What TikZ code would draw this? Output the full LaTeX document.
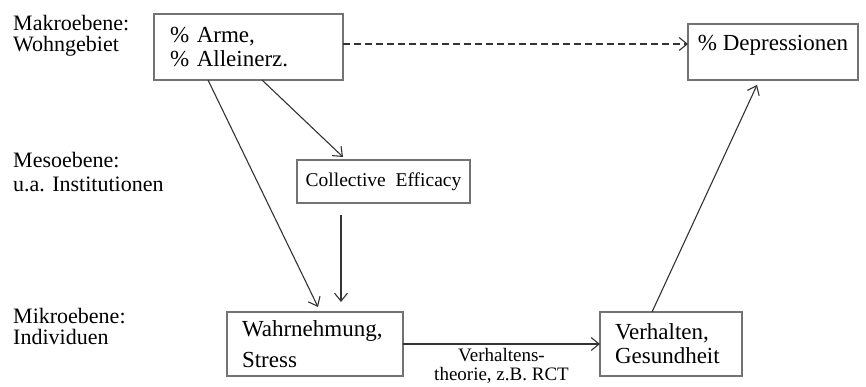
\documentclass[tikz,border=0pt]{standalone}
\usepackage{fontspec}
\setmainfont{Liberation Serif}
\usetikzlibrary{arrows.meta}
\tikzset{
  box/.style={draw=black!55, line width=1.3pt, anchor=north west, align=left,
    inner ysep=0pt, outer sep=0pt, font=\fontsize{23}{24}\selectfont},
  ebene/.style={anchor=north west, inner sep=0pt, align=left,
    font=\fontsize{22}{21}\selectfont},
  pfeil/.style={draw=black!80, line width=1.1pt,
    -{Straight Barb[length=8pt,width=13pt,line width=1.1pt]}}
}
\begin{document}
\begin{tikzpicture}[x=1pt,y=-1pt]
\useasboundingbox (0,0) rectangle (866,387);
% Ebenen
\node[ebene] (makro) at (13,15) {Makroebene:\\Wohngebiet};
\node[ebene] (meso) at (13,152) {Mesoebene:\\[3pt]u.a. Institutionen};
\node[ebene] (mikro) at (13,308) {Mikroebene:\\Individuen};
% Kaesten
\node[box, minimum width=189pt, minimum height=66pt, inner xsep=16pt, text width=157pt]
  (arme) at (154,14) {\% Arme,\\\% Alleinerz.};
\node[box, minimum width=170pt, minimum height=56pt, text depth=19pt]
  (depr) at (688,24) {\% Depressionen};
\node[box, minimum width=173pt, minimum height=43pt, align=center,
  font=\fontsize{19.5}{22}\selectfont] (coll) at (297,160) {Collective\ \ Efficacy};
\node[box, minimum width=176pt, minimum height=64pt, inner xsep=15pt, text width=146pt]
  (wahr) at (227,312) {Wahrnehmung,\\[7pt]Stress};
\node[box, minimum width=142pt, minimum height=64pt, inner xsep=15pt, text width=112pt]
  (verh) at (600,312) {Verhalten,\\Gesundheit};
% Pfeile
\draw[pfeil, dash pattern=on 7pt off 4pt] ([yshift=3pt]arme.east) -- ([yshift=3pt]arme.east -| depr.west);
\draw[pfeil] ([xshift=54pt]arme.south west) -- ([xshift=91pt,yshift=5pt]wahr.north west);
\draw[pfeil] ([xshift=108pt]arme.south west) -- ([xshift=46pt,yshift=3pt]coll.north west);
\draw[pfeil] ([xshift=44pt,yshift=-12pt]coll.south west) -- ([xshift=114pt,yshift=10pt]wahr.north west);
\draw[pfeil] (wahr.east) -- node[below=4pt, inner sep=0pt, align=center,
  font=\fontsize{19}{19}\selectfont] (theo) {Verhaltens-\\theorie, z.B. RCT} (verh.west);
\draw[pfeil] ([xshift=52pt]verh.north west) -- ([xshift=69pt,yshift=-5pt]depr.south west);
\end{tikzpicture}
\end{document}
